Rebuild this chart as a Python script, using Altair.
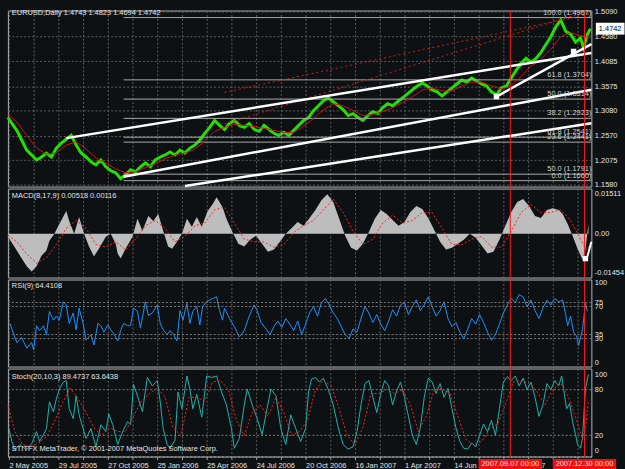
import altair as alt
import pandas as pd

FONT = "Liberation Sans"
FS = 7.5
BG = "#0e1113"
TXT = "#e4e4e4"
GRID = "#5e5e5e"
BORDER = "#b4b4b4"
RED = "#ff1a1a"

W = 590
H_MAIN, H_MACD, H_RSI, H_STO = 178, 90, 88, 89
X_DOMAIN = [1, 591]

# ---------------- time axis (bar index) ----------------
grid_bars = [2, 27, 52, 77, 102, 127, 152, 177, 202, 227, 252, 277, 302, 327,
             352, 377, 402, 427, 452, 477, 502, 527, 552, 577]
label_bars = [2, 52, 102, 152, 202, 252, 302, 352, 402, 452, 502, 552]
date_labels = ["2 May 2005", "29 Jul 2005", "27 Oct 2005", "25 Jan 2006",
               "25 Apr 2006", "24 Jul 2006", "20 Oct 2006", "16 Jan 2007",
               "1 Apr 2007", "14 Jun 2007", "28 Aug 2007", "5 Nov 2007"]
event_bars = [509, 584]
event_labels = ["2007.09.07 00:00", "2007.12.30 00:00"]

# ---------------- price ----------------
price_bar = [1, 5, 10, 15, 20, 25, 30, 35, 40, 45, 50, 55, 60, 65, 70, 75, 80, 85, 90, 95,
             100, 105, 110, 115, 120, 125, 130, 135, 140, 145, 150, 155, 160, 165, 170, 175,
             180, 185, 190, 195, 200, 205, 210, 215, 220, 225, 230, 235, 240, 245, 250, 255,
             260, 265, 270, 275, 280, 285, 290, 295, 300, 305, 310, 315, 320, 325, 330, 335,
             340, 345, 350, 355, 360, 365, 370, 375, 380, 385, 390, 395, 400, 405, 410, 415,
             420, 425, 430, 435, 440, 445, 450, 455, 460, 465, 470, 475, 480, 485, 490, 495,
             500, 505, 510, 515, 520, 525, 530, 535, 540, 545, 550, 555, 560, 565, 570, 575,
             580, 583, 587, 590]
price_val = [1.294, 1.282, 1.268, 1.248, 1.228, 1.218, 1.208, 1.214, 1.222, 1.214, 1.232, 1.242,
             1.250, 1.258, 1.238, 1.222, 1.214, 1.204, 1.198, 1.208, 1.194, 1.186, 1.182, 1.170,
             1.178, 1.188, 1.184, 1.194, 1.202, 1.194, 1.208, 1.214, 1.218, 1.224, 1.218, 1.228,
             1.222, 1.232, 1.238, 1.248, 1.262, 1.274, 1.288, 1.278, 1.270, 1.282, 1.288, 1.278,
             1.274, 1.282, 1.270, 1.266, 1.278, 1.270, 1.262, 1.258, 1.264, 1.258, 1.268, 1.278,
             1.288, 1.294, 1.308, 1.318, 1.328, 1.334, 1.326, 1.318, 1.310, 1.298, 1.302, 1.294,
             1.288, 1.298, 1.306, 1.302, 1.314, 1.322, 1.318, 1.326, 1.334, 1.342, 1.350, 1.358,
             1.364, 1.358, 1.350, 1.346, 1.338, 1.346, 1.354, 1.362, 1.370, 1.366, 1.374, 1.368,
             1.362, 1.358, 1.346, 1.340, 1.354, 1.358, 1.374, 1.390, 1.404, 1.414, 1.406, 1.414,
             1.426, 1.442, 1.458, 1.478, 1.492, 1.469, 1.463, 1.447, 1.455, 1.435, 1.463, 1.4742]

ma_bar = [1, 10, 20, 30, 40, 50, 60, 70, 80, 90, 100, 110, 120, 130, 140, 150, 160, 170, 180,
          190, 200, 210, 220, 230, 240, 250, 260, 270, 280, 290, 300, 310, 320, 330, 340, 350,
          360, 370, 380, 390, 400, 410, 420, 430, 440, 450, 460, 470, 480, 490, 500, 510, 520,
          530, 540, 550, 560, 570, 580, 590]
ma_val = [1.300, 1.285, 1.258, 1.232, 1.220, 1.222, 1.238, 1.245, 1.230, 1.212, 1.202, 1.190,
          1.182, 1.184, 1.192, 1.200, 1.210, 1.218, 1.222, 1.230, 1.246, 1.266, 1.274, 1.280,
          1.278, 1.276, 1.272, 1.268, 1.264, 1.264, 1.276, 1.292, 1.310, 1.322, 1.318, 1.308,
          1.298, 1.300, 1.306, 1.314, 1.324, 1.336, 1.350, 1.354, 1.348, 1.348, 1.358, 1.366,
          1.366, 1.358, 1.352, 1.358, 1.378, 1.398, 1.412, 1.432, 1.458, 1.466, 1.460, 1.456]

main_ticks = [1.5090, 1.4580, 1.4085, 1.3575, 1.3080, 1.2570, 1.2075, 1.1580]

fib_levels = [1.4967, 1.3704, 1.3314, 1.2923, 1.2541, 1.2441, 1.1791, 1.1660]
fib_texts = ["100.0 (1.4967)", "61.8 (1.3704)", "50.0 (1.3314)", "38.2 (1.2923)",
             "61.8 (1.2541)", "23.6 (1.2441)", "50.0 (1.1791)", "0.0 (1.1660)"]
fib_start = [118, 118, 118, 118, 118, 118, 118, 118]

trend_b1 = [60, 118, 180, 495]
trend_p1 = [1.2522, 1.1740, 1.1550, 1.3365]
trend_b2 = [591, 591, 591, 591]
trend_p2 = [1.4247, 1.3505, 1.2823, 1.4428]

dot_b1 = [220, 220]
dot_p1 = [1.345, 1.281]
dot_b2 = [591, 591]
dot_p2 = [1.505, 1.512]

anchor_bar = [495, 573]
anchor_price = [1.3365, 1.428]

main_title = "EURUSD,Daily  1.4743 1.4823 1.4694 1.4742"

# ---------------- MACD ----------------
macd_bar = [1, 3, 10, 15, 20, 25, 30, 35, 40, 43, 48, 53, 60, 63, 68, 73, 78, 83, 88, 93, 100,
            105, 110, 112, 115, 120, 127, 132, 137, 143, 148, 153, 158, 163, 167, 172, 177, 182,
            187, 192, 197, 203, 208, 212, 218, 222, 228, 234, 240, 246, 252, 258, 264, 270, 276,
            282, 288, 294, 300, 306, 312, 318, 324, 330, 336, 342, 348, 354, 360, 366, 372, 378,
            384, 390, 396, 402, 408, 414, 420, 426, 432, 438, 444, 450, 456, 462, 468, 474, 480,
            486, 492, 498, 504, 510, 516, 522, 528, 534, 540, 546, 552, 558, 562, 567, 572, 577,
            582, 585, 588]
macd_val = [-0.0011, -0.0022, -0.0063, -0.0093, -0.0122, -0.0141, -0.0122, -0.0082, -0.0063,
            -0.0026, 0.0, 0.0037, 0.0085, 0.0048, 0.0, 0.0063, 0.0, -0.0048, -0.0085, -0.0056,
            -0.0011, 0.0, -0.0037, -0.0074, -0.0093, -0.0056, -0.0011, 0.0056, 0.0011, 0.0067,
            0.0048, 0.0074, 0.0011, -0.0048, -0.0056, -0.0030, 0.0, 0.0056, 0.0026, 0.0063,
            0.0026, 0.0085, 0.0111, 0.0137, 0.0100, 0.0056, 0.0007, -0.0037, -0.0048, -0.0022,
            -0.0007, -0.0037, -0.0067, -0.0059, -0.0030, 0.0, 0.0022, 0.0044, 0.0030, 0.0059,
            0.0089, 0.0126, 0.0148, 0.0119, 0.0056, -0.0007, -0.0052, -0.0063, -0.0037, 0.0007,
            0.0056, 0.0089, 0.0074, 0.0052, 0.0030, 0.0044, 0.0082, 0.0104, 0.0093, 0.0059,
            0.0015, -0.0030, -0.0059, -0.0052, -0.0037, -0.0022, 0.0, -0.0015, -0.0044, -0.0074,
            -0.0067, -0.0022, 0.0030, 0.0082, 0.0119, 0.0130, 0.0104, 0.0067, 0.0059, 0.0089,
            0.0096, 0.0089, 0.0074, 0.0037, -0.0007, -0.0056, -0.0096, -0.0059, 0.0037]
sig_bar = [1, 10, 20, 30, 40, 50, 60, 70, 80, 90, 100, 110, 120, 130, 140, 150, 160, 170, 180,
           190, 200, 210, 220, 230, 240, 250, 260, 270, 280, 290, 300, 310, 320, 330, 340, 350,
           360, 370, 380, 390, 400, 410, 420, 430, 440, 450, 460, 470, 480, 490, 500, 510, 520,
           530, 540, 550, 560, 570, 580, 586, 590]
sig_val = [-0.0005, -0.0030, -0.0075, -0.0110, -0.0090, -0.0040, 0.0020, 0.0050, 0.0020,
           -0.0040, -0.0050, -0.0030, -0.0060, -0.0020, 0.0030, 0.0050, 0.0020, -0.0030,
           -0.0010, 0.0030, 0.0040, 0.0090, 0.0100, 0.0040, -0.0020, -0.0030, -0.0030, -0.0050,
           -0.0040, 0.0005, 0.0030, 0.0050, 0.0090, 0.0130, 0.0080, 0.0010, -0.0040, -0.0020,
           0.0040, 0.0070, 0.0040, 0.0050, 0.0080, 0.0080, 0.0020, -0.0040, -0.0040, -0.0020,
           -0.0010, -0.0050, -0.0050, 0.0010, 0.0080, 0.0110, 0.0080, 0.0080, 0.0090, 0.0050,
           -0.0020, -0.0060, -0.0040]
macd_ticks = [0.01511, 0.0, -0.01454]
macd_tick_text = ["0.01511", "0.00", "-0.01454"]
macd_anchor_bar = [585]
macd_anchor_val = [-0.0093]
macd_line_b = [587, 591]
macd_line_v = [-0.0085, -0.0030]
macd_title = "MACD(8,17,9) 0.00518 0.00116"

# ---------------- RSI ----------------
rsi_bar = [3, 7, 10, 15, 20, 25, 27, 30, 33, 37, 40, 43, 47, 50, 53, 57, 60, 63, 67, 70, 73,
           77, 80, 85, 88, 92, 95, 98, 102, 105, 108, 112, 115, 118, 122, 125, 128, 132, 135,
           140, 143, 147, 152, 155, 158, 162, 165, 168, 172, 175, 178, 182, 185, 188, 192, 195,
           198, 202, 205, 208, 212, 215, 218, 220, 225, 230, 235, 240, 245, 250, 253, 257, 262,
           266, 270, 274, 278, 282, 286, 290, 294, 298, 302, 306, 310, 314, 318, 322, 326, 330,
           334, 338, 342, 346, 350, 354, 358, 362, 366, 370, 374, 378, 382, 386, 390, 394, 398,
           402, 406, 410, 414, 418, 422, 426, 430, 434, 438, 442, 446, 450, 454, 458, 462, 466,
           470, 474, 478, 482, 486, 490, 494, 498, 502, 506, 510, 514, 518, 522, 526, 530, 534,
           538, 542, 546, 550, 554, 558, 562, 565, 567, 570, 573, 576, 578, 582, 585, 587]
rsi_val = [49, 35, 25, 31, 18, 25, 16, 46, 40, 46, 35, 64, 53, 58, 53, 76, 72, 49, 62, 41, 68,
           49, 28, 35, 22, 49, 46, 38, 47, 41, 36, 27, 40, 49, 46, 46, 68, 64, 43, 76, 59, 62, 72,
           49, 41, 35, 40, 36, 27, 65, 53, 74, 49, 64, 70, 47, 70, 76, 78, 80, 82, 65, 53, 68, 55,
           45, 32, 40, 58, 72, 65, 50, 42, 35, 45, 52, 44, 55, 48, 40, 52, 35, 48, 62, 70, 58, 75,
           80, 72, 62, 55, 45, 35, 30, 42, 38, 55, 70, 62, 50, 60, 48, 40, 52, 66, 58, 72, 75, 60,
           70, 78, 65, 72, 82, 70, 58, 65, 76, 55, 45, 50, 38, 30, 42, 55, 48, 60, 50, 38, 28, 35,
           48, 62, 72, 80, 75, 85, 82, 70, 78, 65, 55, 68, 78, 72, 80, 76, 78, 60, 46, 58, 38, 33,
           21, 41, 74, 64]
rsi_ticks = [100, 75, 70, 35, 30, 0]
rsi_levels = [75, 70, 35, 30]
rsi_title = "RSI(9) 64.4108"

# ---------------- Stochastic ----------------
sto_bar = [2, 5, 8, 13, 20, 25, 30, 33, 37, 40, 43, 47, 50, 53, 57, 60, 63, 67, 70, 73, 77, 80,
           85, 90, 95, 100, 103, 107, 112, 117, 122, 125, 128, 132, 137, 142, 147, 152, 155, 158,
           162, 165, 170, 173, 177, 182, 185, 188, 192, 197, 202, 207, 212, 217, 222, 227, 230,
           235, 240, 243, 248, 253, 258, 263, 267, 272, 277, 282, 287, 292, 297, 302, 305, 308,
           312, 316, 320, 325, 330, 335, 340, 345, 350, 354, 358, 362, 366, 370, 374, 378, 382,
           386, 390, 394, 398, 402, 406, 410, 414, 418, 422, 426, 430, 434, 438, 442, 446, 450,
           454, 458, 462, 466, 470, 474, 478, 482, 486, 490, 494, 498, 502, 506, 510, 514, 518,
           522, 526, 530, 534, 538, 542, 546, 550, 554, 558, 561, 563, 566, 569, 572, 575, 577,
           580, 582, 585, 588]
sto_val = [29, 12, 1, 8, 1, 9, 25, 12, 21, 29, 64, 51, 68, 81, 90, 92, 55, 42, 72, 47, 29, 16,
           29, 5, 34, 25, 48, 34, 8, 25, 38, 34, 87, 72, 51, 96, 85, 92, 64, 29, 8, 3, 14, 77, 55,
           98, 81, 55, 74, 44, 98, 96, 98, 77, 60, 29, 3, 16, 60, 81, 60, 42, 21, 55, 81, 72, 29,
           8, 47, 29, 12, 29, 77, 94, 96, 90, 95, 80, 60, 30, 8, 2, 5, 25, 60, 88, 92, 70, 50, 75,
           92, 85, 60, 78, 90, 70, 45, 20, 8, 30, 70, 95, 90, 75, 88, 70, 82, 55, 30, 12, 3, 2,
           10, 5, 20, 35, 25, 40, 20, 55, 90, 97, 92, 98, 85, 95, 80, 90, 70, 45, 60, 88, 80, 92,
           85, 98, 80, 55, 62, 38, 21, 8, 3, 16, 81, 100]
stosig_bar = [1, 8, 16, 24, 32, 40, 48, 56, 64, 72, 80, 88, 96, 104, 112, 120, 128, 136, 144,
              152, 160, 168, 176, 184, 192, 200, 208, 216, 224, 232, 240, 248, 256, 264, 272,
              280, 288, 296, 304, 312, 320, 328, 336, 344, 352, 360, 368, 376, 384, 392, 400,
              408, 416, 424, 432, 440, 448, 456, 464, 472, 480, 488, 496, 504, 512, 520, 528,
              536, 544, 552, 560, 568, 576, 582, 585, 588]
stosig_val = [60, 25, 8, 5, 10, 18, 38, 62, 82, 68, 50, 30, 20, 30, 25, 25, 45, 65, 75, 82, 70,
              30, 20, 70, 70, 65, 90, 92, 80, 40, 20, 50, 60, 45, 70, 50, 20, 25, 40, 80, 92, 85,
              55, 20, 8, 30, 75, 75, 80, 75, 80, 60, 25, 45, 80, 82, 75, 45, 15, 8, 12, 28, 35,
              60, 90, 92, 88, 78, 60, 80, 88, 70, 40, 15, 30, 64]
sto_ticks = [100, 80, 20, 0]
sto_levels = [80, 20]
sto_title = "Stoch(20,10,3) 89.4737 63.6438"
copyright_text = "STITFX MetaTrader, \u00a9 2001-2007 MetaQuotes Software Corp."

# ================= build =================
xs = alt.Scale(domain=X_DOMAIN, nice=False, zero=False)
grid_axis = alt.Axis(values=grid_bars, labels=False, ticks=False, domain=False,
                     grid=True, title=None)
label_expr = (f"indexof({label_bars}, datum.value) >= 0 ? "
              f"{date_labels}[indexof({label_bars}, datum.value)] : ''")
bottom_axis = alt.Axis(values=grid_bars, labelExpr=label_expr, labelAlign="left",
                       labelBaseline="top", labelOverlap=False, labelFlush=False,
                       labelPadding=2, tickSize=3, grid=True, domain=True,
                       domainDash=[2, 2], title=None)


def txt_df(s):
    return pd.DataFrame({"t": [s]})


def panel_title(s, y):
    return alt.Chart(txt_df(s)).mark_text(align="left", baseline="middle", color=TXT).encode(
        text="t:N", x=alt.value(4), y=alt.value(y))


def vlines(X):
    return alt.Chart(pd.DataFrame({"bar": event_bars})).mark_rule(
        color=RED, strokeWidth=1).encode(x=X("bar"))


# ---------- main ----------
def Xm(f):
    return alt.X(f"{f}:Q", scale=xs, axis=grid_axis)


ys_main = alt.Scale(domain=[1.154, 1.511], nice=False, zero=False)
yax_main = alt.Axis(orient="right", values=main_ticks, format=".4f", grid=True, ticks=False,
                    domain=False, labelPadding=3, title=None)


def Ym(f):
    return alt.Y(f"{f}:Q", scale=ys_main, axis=yax_main)


price_df = pd.DataFrame({"bar": price_bar, "price": price_val})
ma_df = pd.DataFrame({"bar": ma_bar, "price": ma_val})
fib_df = pd.DataFrame({"start": fib_start, "end": [X_DOMAIN[1]] * len(fib_levels),
                       "level": fib_levels, "label": fib_texts})
trend_df = pd.DataFrame({"b1": trend_b1, "p1": trend_p1, "b2": trend_b2, "p2": trend_p2})
dot_df = pd.DataFrame({"b1": dot_b1, "p1": dot_p1, "b2": dot_b2, "p2": dot_p2})
anchor_df = pd.DataFrame({"bar": anchor_bar, "price": anchor_price})
last_df = pd.DataFrame({"price": [price_val[-1]], "label": [f"{price_val[-1]:.4f}"]})

price_line = alt.Chart(price_df).mark_line(color="#22e000", strokeWidth=3).encode(
    x=Xm("bar"), y=Ym("price"))
ma_line = alt.Chart(ma_df).mark_line(color="#d01010", strokeWidth=1).encode(
    x=Xm("bar"), y=Ym("price"))
fib_rules = alt.Chart(fib_df).mark_rule(color="#a8a8a8", strokeWidth=1).encode(
    x=Xm("start"), x2="end:Q", y=Ym("level"))
fib_text = alt.Chart(fib_df).mark_text(align="right", baseline="bottom", dy=-1,
                                       color="#d0d0d0").encode(
    x=Xm("end"), y=Ym("level"), text="label:N")
dot_lines = alt.Chart(dot_df).mark_rule(color="#e01818", strokeWidth=1,
                                        strokeDash=[2, 3]).encode(
    x=Xm("b1"), y=Ym("p1"), x2="b2:Q", y2="p2:Q")
trend_lines = alt.Chart(trend_df).mark_rule(color="white", strokeWidth=2.5).encode(
    x=Xm("b1"), y=Ym("p1"), x2="b2:Q", y2="p2:Q")
anchors = alt.Chart(anchor_df).mark_square(color="white", size=30, opacity=1).encode(
    x=Xm("bar"), y=Ym("price"))
last_box = alt.Chart(last_df).mark_tick(orient="horizontal", size=29, thickness=12,
                                        color="white", opacity=1).encode(
    x=alt.value(W + 19), y=Ym("price"))
last_text = alt.Chart(last_df).mark_text(color="black", align="center",
                                         baseline="middle").encode(
    x=alt.value(W + 19), y=Ym("price"), text="label:N")

main = alt.layer(price_line, fib_rules, ma_line, dot_lines, trend_lines, anchors,
                 vlines(Xm), fib_text, panel_title(main_title, 3), last_box,
                 last_text).properties(width=W, height=H_MAIN)

# ---------- MACD ----------
ys_macd = alt.Scale(domain=[-0.01639, 0.01696], nice=False, zero=False)
macd_expr = " : ".join(f"datum.value == {v} ? '{t}'" for v, t in
                       zip(macd_ticks[:-1], macd_tick_text[:-1])) + f" : '{macd_tick_text[-1]}'"
yax_macd = alt.Axis(orient="right", values=macd_ticks, labelExpr=macd_expr, grid=False,
                    ticks=False, domain=False, labelPadding=3, title=None)


def Yd(f):
    return alt.Y(f"{f}:Q", scale=ys_macd, axis=yax_macd)


macd_df = pd.DataFrame({"bar": macd_bar, "v": macd_val})
sig_df = pd.DataFrame({"bar": sig_bar, "v": sig_val})
macd_hist = alt.Chart(macd_df).mark_area(color="#bdbdbd", opacity=1).encode(
    x=Xm("bar"), y=Yd("v"), y2=alt.datum(0))
macd_sig = alt.Chart(sig_df).mark_line(color="#ff2020", strokeWidth=1,
                                       strokeDash=[2, 2]).encode(x=Xm("bar"), y=Yd("v"))
macd_sq = alt.Chart(pd.DataFrame({"bar": macd_anchor_bar, "v": macd_anchor_val})).mark_square(
    color="white", size=30, opacity=1).encode(x=Xm("bar"), y=Yd("v"))
macd_tl = alt.Chart(pd.DataFrame({"bar": macd_line_b, "v": macd_line_v})).mark_line(
    color="white", strokeWidth=2).encode(x=Xm("bar"), y=Yd("v"))
macd = alt.layer(macd_hist, macd_sig, vlines(Xm), macd_tl, macd_sq,
                 panel_title(macd_title, 8)).properties(width=W, height=H_MACD)

# ---------- RSI ----------
ys_rsi = alt.Scale(domain=[-4.9, 103.7], nice=False, zero=False)
yax_rsi = alt.Axis(orient="right", values=rsi_ticks, grid=False, ticks=False, domain=False,
                   labelPadding=3, title=None, labelOverlap=False)


def Yr(f):
    return alt.Y(f"{f}:Q", scale=ys_rsi, axis=yax_rsi)


rsi_df = pd.DataFrame({"bar": rsi_bar, "v": rsi_val})
rsi_lv = alt.Chart(pd.DataFrame({"v": rsi_levels})).mark_rule(
    color="#7a7a7a", strokeDash=[2, 2], strokeWidth=1).encode(y=Yr("v"))
rsi_line = alt.Chart(rsi_df).mark_line(color="#1e90ff", strokeWidth=1).encode(
    x=Xm("bar"), y=Yr("v"))
rsi = alt.layer(rsi_line, rsi_lv, vlines(Xm), panel_title(rsi_title, 7)).properties(
    width=W, height=H_RSI)


# ---------- Stochastic ----------
def Xb(f):
    return alt.X(f"{f}:Q", scale=xs, axis=bottom_axis)


ys_sto = alt.Scale(domain=[-7.8, 107.8], nice=False, zero=False)
yax_sto = alt.Axis(orient="right", values=sto_ticks, grid=False, ticks=False, domain=False,
                   labelPadding=3, title=None, labelOverlap=False)


def Ys(f):
    return alt.Y(f"{f}:Q", scale=ys_sto, axis=yax_sto)


sto_df = pd.DataFrame({"bar": sto_bar, "v": sto_val})
stosig_df = pd.DataFrame({"bar": stosig_bar, "v": stosig_val})
ev_df = pd.DataFrame({"bar": event_bars, "label": event_labels})
sto_lv = alt.Chart(pd.DataFrame({"v": sto_levels})).mark_rule(
    color="#7a7a7a", strokeDash=[2, 2], strokeWidth=1).encode(y=Ys("v"))
sto_line = alt.Chart(sto_df).mark_line(color="#20b2aa", strokeWidth=1).encode(
    x=Xb("bar"), y=Ys("v"))
sto_sig = alt.Chart(stosig_df).mark_line(color="#ff2020", strokeWidth=1,
                                         strokeDash=[2, 2]).encode(x=Xb("bar"), y=Ys("v"))
ev_box = alt.Chart(ev_df).mark_tick(orient="horizontal", size=64, thickness=11, color="#f01010",
                                    opacity=1).encode(x=Xb("bar"), y=alt.value(H_STO + 8))
ev_text = alt.Chart(ev_df).mark_text(color="#ffe0e0", align="center", baseline="middle").encode(
    x=Xb("bar"), y=alt.value(H_STO + 8), text="label:N")
copy_text = alt.Chart(txt_df(copyright_text)).mark_text(
    align="left", baseline="middle", color=TXT).encode(
    text="t:N", x=alt.value(4), y=alt.value(H_STO - 8))
sto = alt.layer(sto_line, sto_lv, sto_sig, vlines(Xb), panel_title(sto_title, 9), copy_text,
                ev_box, ev_text).properties(width=W, height=H_STO)

chart = alt.vconcat(main, macd, rsi, sto, spacing=2, bounds="flush").properties(
    background=BG, padding={"left": 1, "top": 4, "right": 0, "bottom": 0}
).configure_view(stroke=BORDER, strokeWidth=1).configure_axis(
    labelFont=FONT, labelFontSize=FS, labelColor=TXT, gridColor=GRID, gridDash=[2, 2],
    gridWidth=1, tickColor="#a0a0a0", domainColor="#a0a0a0"
).configure_text(font=FONT, fontSize=FS)

chart.save("out.html", embed_options={"renderer": "svg", "actions": False})
